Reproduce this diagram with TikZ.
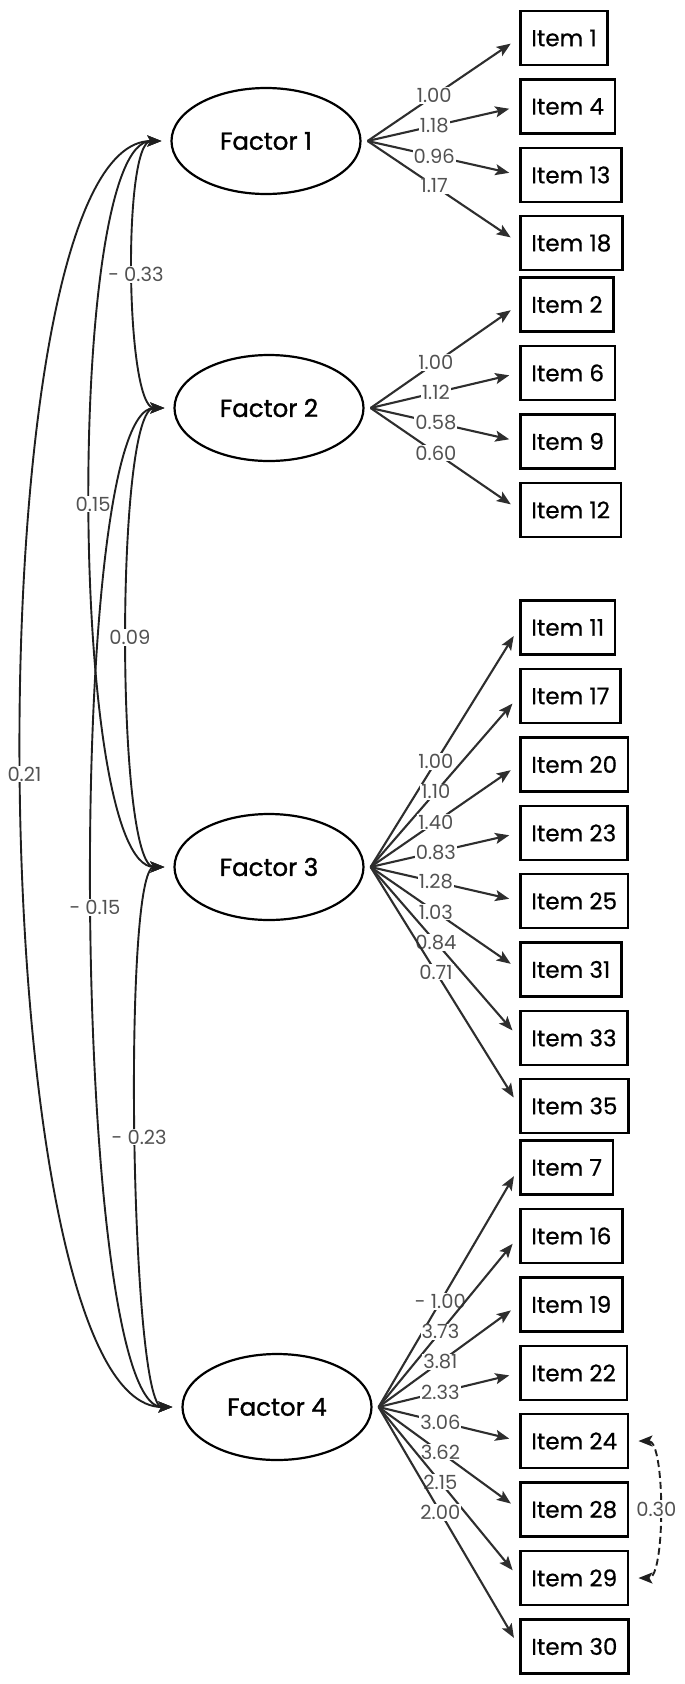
\documentclass[tikz,border=0pt]{standalone}
\usepackage{fontspec}
\setmainfont{Poppins}
\newfontfamily\itemfont{Poppins}[FakeBold=0.6]
\newfontfamily\factorfont{Poppins}[FakeBold=1.3]
\usetikzlibrary{arrows.meta,shapes.geometric}

\tikzset{
	factor/.style={ellipse, draw, line width=2.2pt, minimum width=189pt,
		minimum height=106pt, inner sep=0pt,
		font=\factorfont\fontsize{24.5pt}{24.5pt}\selectfont},
	item/.style={rectangle, draw, line width=2.6pt, anchor=west,
		minimum height=54pt, inner xsep=11pt,
		font=\itemfont\fontsize{23pt}{23pt}\selectfont},
	tip/.tip={Stealth[length=14pt, width=11pt, inset=3pt]},
	load/.style={-tip, line width=2.1pt, draw=black!82, shorten >=10pt},
	cov/.style={tip-tip, line width=1.9pt, draw=black!88,
		shorten >=9pt, shorten <=9pt},
	coef/.style={fill=white, inner sep=1pt, text=black!68,
		font=\fontsize{19.5pt}{19.5pt}\selectfont},
	lcoef/.style={coef, pos=0.44},
}

\begin{document}
\begin{tikzpicture}[x=1pt, y=-1pt]
	\useasboundingbox (0,0) rectangle (685,1684);

	% latent factors
	\node [factor] (f1) at (266,141) {Factor 1};
	\node [factor] (f2) at (269,408) {Factor 2};
	\node [factor] (f3) at (269,867) {Factor 3};
	\node [factor] (f4) at (277,1407) {Factor 4};

	% observed items
	\node [item] (i1) at (519,38) {Item 1};
	\node [item] (i4) at (519,106.5) {Item 4};
	\node [item] (i13) at (519,175) {Item 13};
	\node [item] (i18) at (519,243) {Item 18};

	\node [item] (i2) at (519,304.5) {Item 2};
	\node [item] (i6) at (519,373) {Item 6};
	\node [item] (i9) at (519,441.5) {Item 9};
	\node [item] (i12) at (519,510) {Item 12};

	\node [item] (i11) at (519,627.5) {Item 11};
	\node [item] (i17) at (519,696) {Item 17};
	\node [item] (i20) at (519,764.5) {Item 20};
	\node [item] (i23) at (519,833) {Item 23};
	\node [item] (i25) at (519,901) {Item 25};
	\node [item] (i31) at (519,969.5) {Item 31};
	\node [item] (i33) at (519,1038) {Item 33};
	\node [item] (i35) at (519,1106) {Item 35};

	\node [item] (i7) at (519,1167.5) {Item 7};
	\node [item] (i16) at (519,1236) {Item 16};
	\node [item] (i19) at (519,1304.5) {Item 19};
	\node [item] (i22) at (519,1373) {Item 22};
	\node [item] (i24) at (519,1441) {Item 24};
	\node [item] (i28) at (519,1509.5) {Item 28};
	\node [item] (i29) at (519,1578) {Item 29};
	\node [item] (i30) at (519,1646.5) {Item 30};

	% where the loadings fan out
	\coordinate (f1r) at ([xshift=6pt]f1.east);
	\coordinate (f2r) at ([xshift=6pt]f2.east);
	\coordinate (f3r) at ([xshift=6pt]f3.east);
	\coordinate (f4r) at ([xshift=6pt]f4.east);

	% loadings
	\draw [load] (f1r) to node [lcoef] {1.00} (i1.west);
	\draw [load] (f1r) to node [lcoef] {1.18} (i4.west);
	\draw [load] (f1r) to node [lcoef] {0.96} (i13.west);
	\draw [load] (f1r) to node [lcoef] {1.17} (i18.west);

	\draw [load] (f2r) to node [lcoef] {1.00} (i2.west);
	\draw [load] (f2r) to node [lcoef] {1.12} (i6.west);
	\draw [load] (f2r) to node [lcoef] {0.58} (i9.west);
	\draw [load] (f2r) to node [lcoef] {0.60} (i12.west);

	\draw [load] (f3r) to node [lcoef] {1.00} (i11.west);
	\draw [load] (f3r) to node [lcoef] {1.10} (i17.west);
	\draw [load] (f3r) to node [lcoef] {1.40} (i20.west);
	\draw [load] (f3r) to node [lcoef] {0.83} (i23.west);
	\draw [load] (f3r) to node [lcoef] {1.28} (i25.west);
	\draw [load] (f3r) to node [lcoef] {1.03} (i31.west);
	\draw [load] (f3r) to node [lcoef] {0.84} (i33.west);
	\draw [load] (f3r) to node [lcoef] {0.71} (i35.west);

	\draw [load] (f4r) to node [lcoef] {- 1.00} (i7.west);
	\draw [load] (f4r) to node [lcoef] {3.73} (i16.west);
	\draw [load] (f4r) to node [lcoef] {3.81} (i19.west);
	\draw [load] (f4r) to node [lcoef] {2.33} (i22.west);
	\draw [load] (f4r) to node [lcoef] {3.06} (i24.west);
	\draw [load] (f4r) to node [lcoef] {3.62} (i28.west);
	\draw [load] (f4r) to node [lcoef] {2.15} (i29.west);
	\draw [load] (f4r) to node [lcoef] {2.00} (i30.west);

	% factor covariances
	\draw [cov] (f1.west) .. controls +(-48,0) and +(-48,0) ..
		node [coef] {- 0.33} (f2.west);
	\draw [cov] (f1.west) .. controls +(-105,0) and +(-105,0) ..
		node [coef] {0.15} (f3.west);
	\draw [cov] (f1.west) .. controls +(-202,0) and +(-202,0) ..
		node [coef] {0.21} (f4.west);
	\draw [cov] (f2.west) .. controls +(-58,0) and +(-58,0) ..
		node [coef] {0.09} (f3.west);
	\draw [cov] (f2.west) .. controls +(-110,0) and +(-110,0) ..
		node [coef] {- 0.15} (f4.west);
	\draw [cov] (f3.west) .. controls +(-51,0) and +(-51,0) ..
		node [coef] {- 0.23} (f4.west);

	% residual covariance
	\draw [cov, dash pattern=on 7pt off 4pt] (i24.east) .. controls +(36,0) and +(36,0) ..
		node [coef] {0.30} (i29.east);
\end{tikzpicture}
\end{document}
